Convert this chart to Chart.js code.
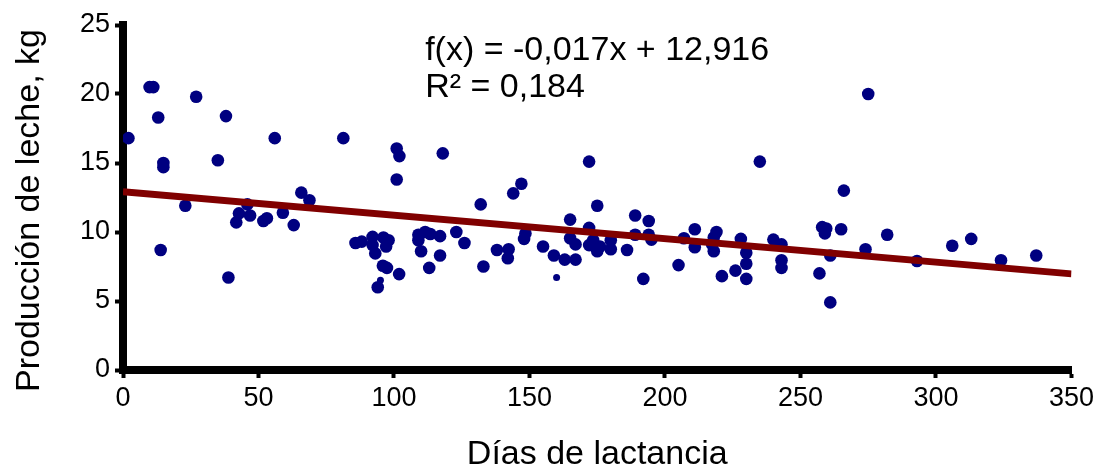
<!DOCTYPE html>
<html>
<head>
<meta charset="utf-8">
<title>Producción de leche vs días de lactancia</title>
<script src="https://cdn.jsdelivr.net/npm/chart.js@4/dist/chart.umd.min.js"></script>
<style>
  html, body { margin: 0; padding: 0; background: #fff; }
  #wrap { width: 1098px; height: 470px; }
</style>
</head>
<body>
<div id="wrap"><canvas id="milkChart" width="1098" height="470"></canvas></div>
<script>
// Días de lactancia (x) y producción de leche en kg (y)
const daysLactation = [
  2, 9.8, 11.2, 13, 27, 38, 56, 81.3, 14.9, 14.9,
  35, 65.8, 68.8, 23, 13.9, 38.9, 45.9, 42.8, 46.9, 41.8,
  51.8, 53.1, 59, 63, 85.8, 88.1, 92.1, 92.1, 93.1, 96.1,
  98, 97.1, 95.9, 97.4, 101.9, 94, 101, 102, 118, 101,
  147, 144, 132, 172, 175, 165, 172, 148.5, 148, 109,
  109, 111.5, 113.4, 117, 110, 117, 113, 123, 126, 133,
  138, 142.3, 142, 155, 159, 163, 167, 165, 167, 172,
  173.5, 175, 176, 180, 180, 186, 189, 194, 189, 194,
  195, 192, 205, 207, 211, 211, 219, 218, 217.4, 218,
  221, 226, 228, 230, 230, 230, 235, 240, 243, 243,
  243, 257, 258, 259.5, 259, 261, 261, 266, 265, 275,
  274, 282, 293, 306, 313, 324, 337
];
const milkKg = [
  16.8, 20.5, 20.5, 18.3, 19.8, 18.4, 16.8, 16.8, 15.0, 14.7,
  15.2, 12.85, 12.3, 11.9, 8.7, 6.7, 12.0, 11.35, 11.2, 10.7,
  10.8, 11.0, 11.4, 10.5, 9.2, 9.3, 9.65, 9.05, 8.45, 9.6,
  9.4, 8.95, 7.55, 7.4, 6.95, 6.0, 16.05, 15.5, 15.7, 13.8,
  13.5, 12.8, 12.0, 15.1, 11.9, 10.9, 10.3, 9.9, 9.5, 9.8,
  9.4, 10.0, 9.85, 9.7, 8.6, 8.3, 7.4, 10.0, 9.2, 7.5,
  8.7, 8.75, 8.1, 8.95, 8.3, 8.0, 8.0, 9.55, 9.1, 9.05,
  9.4, 8.6, 8.95, 9.4, 8.75, 8.7, 11.2, 10.8, 9.8, 9.8,
  9.45, 6.6, 7.6, 9.55, 10.2, 8.9, 10.0, 9.6, 9.1, 8.6,
  6.8, 7.2, 9.5, 8.5, 7.7, 6.6, 15.1, 9.45, 9.1, 7.95,
  7.4, 7.0, 10.35, 10.25, 9.9, 8.3, 4.9, 13.0, 10.2, 20.0,
  8.75, 9.8, 7.9, 9.0, 9.5, 7.95, 8.3
];
// dos puntos más pequeños en el original
const smallDays = [95, 160];
const smallKg = [6.5, 6.7];

// línea de tendencia mostrada en el gráfico
const trendSlope = -0.017;
const trendIntercept = 12.916;
const trendRange = [0, 350];

const xTicks = [0, 50, 100, 150, 200, 250, 300, 350];
const yTicks = [0, 5, 10, 15, 20, 25];

const equationLines = ["f(x) = -0,017x + 12,916", "R² = 0,184"];
const yTitle = "Producción de leche, kg";
const xTitle = "Días de lactancia";

const FONT = "'Liberation Sans', Arial, Helvetica, sans-serif";
Chart.defaults.font.family = FONT;
Chart.defaults.color = "#000";

const toPoints = (xs, ys) => xs.map((x, i) => ({ x: x, y: ys[i] }));
const trendPoints = trendRange.map(x => ({ x: x, y: trendIntercept + trendSlope * x }));

// texto de la ecuación y título vertical
const extraText = {
  id: "extraText",
  afterDraw(chart) {
    const { ctx, scales, chartArea } = chart;
    ctx.save();
    ctx.fillStyle = "#000";
    ctx.font = "34px " + FONT;
    ctx.textAlign = "left";
    ctx.textBaseline = "alphabetic";
    const tx = scales.x.getPixelForValue(111.5);
    ctx.fillText(equationLines[0], tx, scales.y.getPixelForValue(22.45));
    ctx.fillText(equationLines[1], tx, scales.y.getPixelForValue(19.8));

    ctx.translate(30, (chartArea.top + chartArea.bottom) / 2 + 13);
    ctx.rotate(-Math.PI / 2);
    ctx.textAlign = "center";
    ctx.textBaseline = "middle";
    ctx.fillText(yTitle, 0, 0);

    ctx.restore();
  }
};

const ctx = document.getElementById("milkChart").getContext("2d");

const milkChart = new Chart(ctx, {
  type: "scatter",
  data: {
    datasets: [
      {
        type: "line",
        label: "Tendencia",
        data: trendPoints,
        borderColor: "#800000",
        borderWidth: 7,
        pointRadius: 0,
        fill: false,
        order: 0,
      },
      {
        label: "Producción",
        data: toPoints(daysLactation, milkKg),
        backgroundColor: "#000080",
        borderColor: "#000080",
        pointRadius: 6.3,
        borderWidth: 0,
        order: 1,
      },
      {
        label: "Producción (pequeños)",
        data: toPoints(smallDays, smallKg),
        backgroundColor: "#000080",
        borderColor: "#000080",
        pointRadius: 3.5,
        borderWidth: 0,
        order: 1,
      },
    ],
  },
  options: {
    responsive: false,
    animation: false,
    layout: { padding: { top: 25, right: 26, bottom: 0, left: 0 } },
    plugins: {
      legend: { display: false },
      tooltip: { enabled: false },
    },
    scales: {
      x: {
        type: "linear",
        min: 0,
        max: 350,
        afterBuildTicks: s => { s.ticks = xTicks.map(v => ({ value: v })); },
        afterFit: s => { s.height = 100; },
        ticks: { font: { size: 27 }, padding: 4, color: "#000" },
        grid: { drawOnChartArea: false, drawTicks: true, tickLength: 8, tickWidth: 4, tickColor: "#000" },
        border: { display: true, width: 8, color: "#000" },
        title: {
          display: true,
          text: xTitle,
          font: { size: 34, lineHeight: 0.9 },
          padding: { top: 0, bottom: 0 },
          color: "#000",
        },
      },
      y: {
        type: "linear",
        min: 0,
        max: 25,
        afterBuildTicks: s => { s.ticks = yTicks.map(v => ({ value: v })); },
        afterFit: s => { s.width = 123; },
        ticks: { font: { size: 27 }, padding: 5, color: "#000" },
        grid: { drawOnChartArea: false, drawTicks: true, tickLength: 8, tickWidth: 4, tickColor: "#000" },
        border: { display: true, width: 8, color: "#000" },
      },
    },
  },
  plugins: [extraText],
});
</script>
</body>
</html>
